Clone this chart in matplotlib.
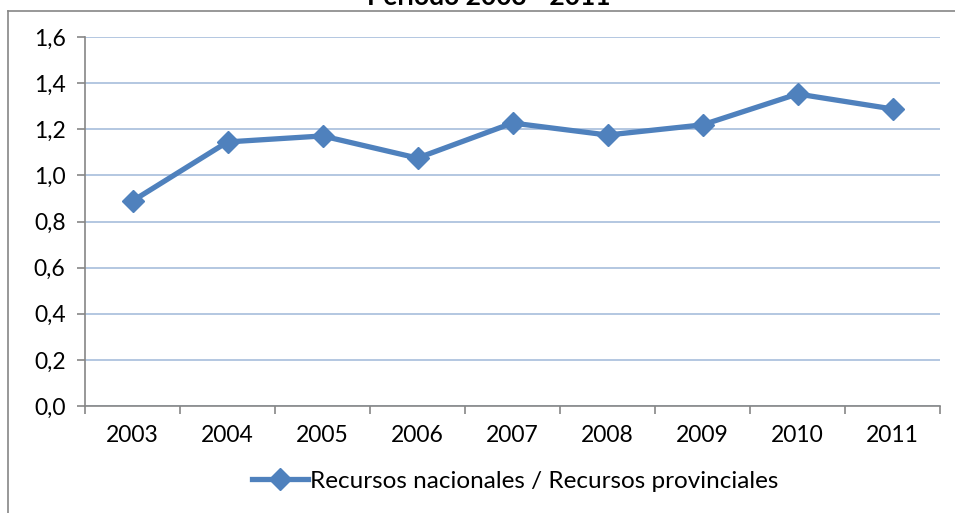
import matplotlib.pyplot as plt
from matplotlib.lines import Line2D
from matplotlib.ticker import FixedLocator, MultipleLocator

years = ['2003', '2004', '2005', '2006', '2007', '2008', '2009', '2010', '2011']
ratio = [0.889, 1.145, 1.171, 1.075, 1.227, 1.175, 1.219, 1.353, 1.288]
series_name = 'Recursos nacionales / Recursos provinciales'
title = 'Período 2003 - 2011'

plt.rcParams['font.family'] = ['Lato', 'DejaVu Sans']

W, H = 955, 513
fig = plt.figure(figsize=(W / 100, H / 100), dpi=100)
ax = fig.add_axes([85 / W, (H - 406) / H, (940 - 85) / W, (406 - 37) / H])

blue = '#4F81BD'
gray = '#868686'

x = list(range(len(years)))
ax.plot(x, ratio, color=blue, lw=3.8, marker='D', ms=11.5,
        markerfacecolor=blue, markeredgecolor=blue, solid_capstyle='round', zorder=3)

ax.set_xlim(-0.5, len(years) - 0.5)
ax.set_ylim(0, 1.6)
ax.yaxis.set_major_locator(MultipleLocator(0.2))
ax.yaxis.set_major_formatter(plt.FuncFormatter(lambda v, p: f'{v:.1f}'.replace('.', ',')))
ax.set_xticks(x)
ax.set_xticklabels(years)
ax.tick_params(axis='x', which='major', length=0, pad=14, labelsize=16.5)
ax.xaxis.set_minor_locator(FixedLocator([i - 0.5 for i in range(len(years) + 1)]))
ax.tick_params(axis='x', which='minor', length=6, color=gray, width=1.2, direction='out')
ax.tick_params(axis='y', length=6, color=gray, width=1.2, pad=8, labelsize=16.5)

ax.grid(axis='y', color='#A7BEDC', lw=1.2)
ax.set_axisbelow(True)
for s in ['top', 'right']:
    ax.spines[s].set_visible(False)
for s in ['left', 'bottom']:
    ax.spines[s].set_color(gray)
    ax.spines[s].set_linewidth(1.2)

# outer chart frame (top and left visible in the crop)
fig.add_artist(Line2D([8 / W, 1], [1 - 11 / H, 1 - 11 / H], color=gray, lw=1.2))
fig.add_artist(Line2D([8 / W, 8 / W], [0, 1 - 11 / H], color=gray, lw=1.2))

fig.text(489 / W, 1 - 5 / H, title, ha='center', va='baseline',
         fontsize=19, fontweight='bold')

handle = Line2D([], [], color=blue, lw=3.8, marker='D', ms=11.5)
fig.legend([handle], [series_name], loc='center', bbox_to_anchor=(515 / W, 1 - 481 / H),
           frameon=False, fontsize=17.5, handlelength=2.3, handletextpad=0.1)

fig.savefig('out.png', dpi=100)
